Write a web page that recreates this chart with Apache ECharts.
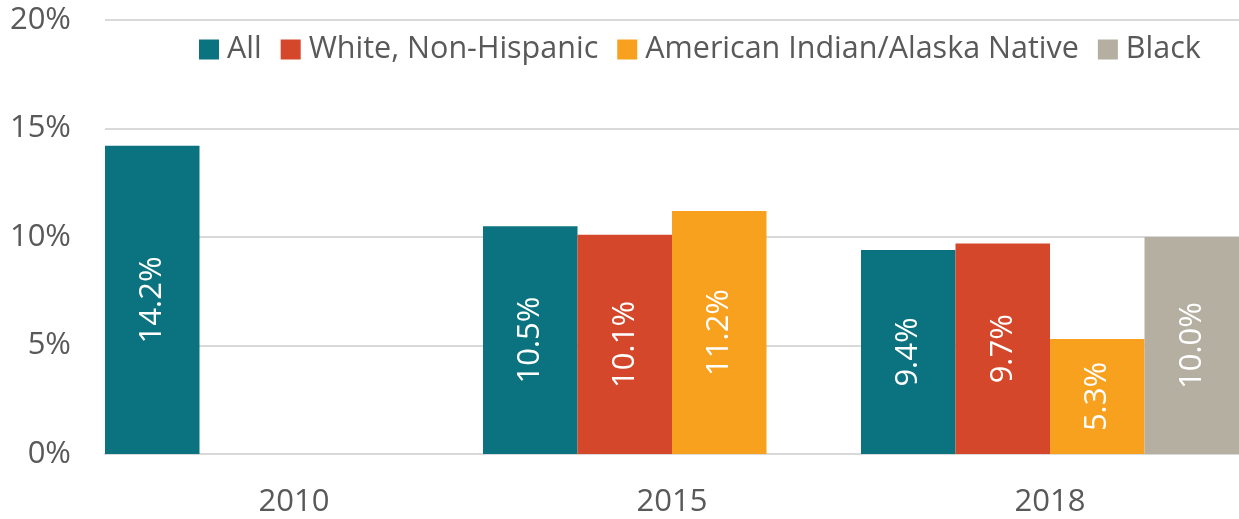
<!DOCTYPE html>
<html>
<head>
<meta charset="utf-8">
<script src="https://cdn.jsdelivr.net/npm/echarts@6/dist/echarts.min.js"></script>
<style>html,body{margin:0;padding:0;background:#fff}#c{width:1239px;height:519px}</style>
</head>
<body>
<div id="c"></div>
<script>
const categories = ['2010', '2015', '2018'];
const seriesNames = ['All', 'White, Non-Hispanic', 'American Indian/Alaska Native', 'Black'];
const allValues = [14.2, 10.5, 9.4];
const whiteValues = [null, 10.1, 9.7];
const aianValues = [null, 11.2, 5.3];
const blackValues = [null, null, 10.0];
const yTicks = [0, 5, 10, 15, 20];
const colors = ['#0a737f', '#d4472a', '#f8a11f', '#b5afa2'];

const FONT = '"Open Sans", "Noto Sans", sans-serif';
const chart = echarts.init(document.getElementById('c'), null, {renderer: 'canvas'});
const dataSets = [allValues, whiteValues, aianValues, blackValues];
chart.setOption({
  animation: false,
  textStyle: {fontFamily: FONT},
  color: colors,
  grid: {left: 105, right: 0, top: 20, bottom: 65, containLabel: false},
  legend: {
    left: 194, top: 29,
    itemWidth: 20, itemHeight: 20, itemGap: 19,
    icon: 'rect',
    textStyle: {fontFamily: FONT, fontSize: 30.5, color: '#595959', padding: [0, 0, 0, 3]},
    data: seriesNames
  },
  xAxis: {
    type: 'category',
    data: categories,
    axisLine: {lineStyle: {color: '#d9d9d9', width: 2}},
    axisTick: {show: false},
    axisLabel: {fontFamily: FONT, fontSize: 31, color: '#595959', margin: 33}
  },
  yAxis: {
    type: 'value',
    min: yTicks[0], max: yTicks[yTicks.length - 1], interval: 5,
    axisLine: {show: false},
    axisTick: {show: false},
    splitLine: {lineStyle: {color: '#d9d9d9', width: 2}},
    axisLabel: {fontFamily: FONT, fontSize: 31, color: '#595959', margin: 34, formatter: v => v + '%'}
  },
  series: seriesNames.map((n, i) => ({
    name: n,
    type: 'bar',
    data: dataSets[i],
    barGap: '0%',
    barCategoryGap: '0%',
    label: {
      show: true,
      position: 'inside',
      rotate: 90,
      align: 'center',
      verticalAlign: 'middle',
      color: '#ffffff',
      fontFamily: FONT,
      fontSize: 31,
      formatter: p => p.value == null ? '' : p.value.toFixed(1) + '%'
    }
  }))
});
</script>
</body>
</html>
